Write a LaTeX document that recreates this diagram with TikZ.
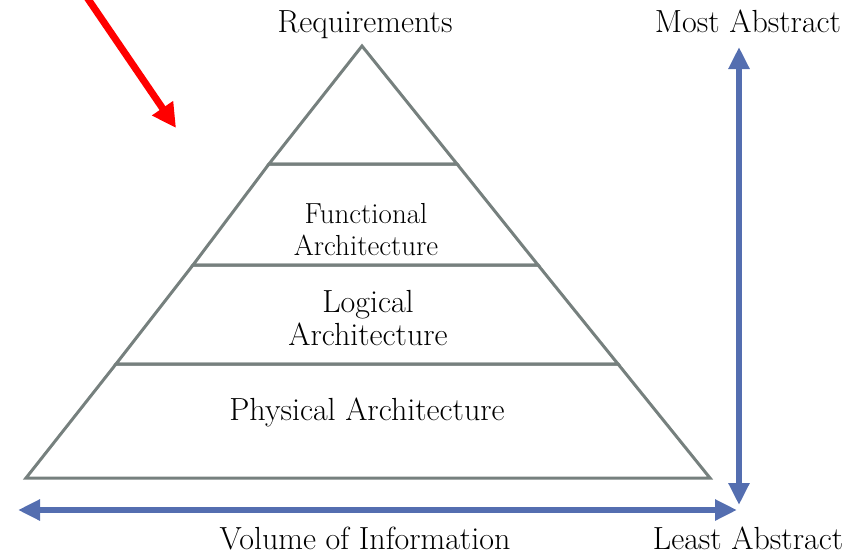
\documentclass[tikz,border=0pt]{standalone}
\usetikzlibrary{arrows.meta}
\definecolor{pyrgray}{RGB}{118,128,126}
\definecolor{axisblue}{RGB}{84,110,176}
\definecolor{callred}{RGB}{255,0,0}
\tikzset{
  layer/.style={draw=pyrgray, line width=3pt, line join=miter},
  axis/.style={draw=axisblue, line width=6pt, {Triangle[length=22pt,width=20pt]}-{Triangle[length=22pt,width=20pt]}},
  pointer/.style={draw=callred, line width=7pt, -{Triangle[length=24pt,width=24pt]}},
  lbl/.style={inner sep=0pt, anchor=base, font=\fontsize{32}{34}\selectfont},
  smalllbl/.style={lbl, font=\fontsize{29}{31}\selectfont},
}
\begin{document}
\begin{tikzpicture}[x=1pt,y=-1pt]
\useasboundingbox (0,0) rectangle (863,555);
% pyramid corners
\coordinate (apex) at (362,46);
\coordinate (l1) at (269,164); \coordinate (r1) at (457,164);
\coordinate (l2) at (193,265); \coordinate (r2) at (538,265);
\coordinate (l3) at (116,364); \coordinate (r3) at (618,364);
\coordinate (l4) at (26,478);  \coordinate (r4) at (710,478);
\draw[layer] (apex) -- (r1) -- (l1) -- cycle;
\draw[layer] (l1) -- (r1) -- (r2) -- (l2) -- cycle;
\draw[layer] (l2) -- (r2) -- (r3) -- (l3) -- cycle;
\draw[layer] (l3) -- (r3) -- (r4) -- (l4) -- cycle;
% labels
\node[lbl] (req) at (365,32) {Requirements};
\node[smalllbl] (func1) at (366,223) {Functional};
\node[smalllbl] (func2) at (366,255) {Architecture};
\node[lbl] (log1) at (368,312) {Logical};
\node[lbl] (log2) at (368,345) {Architecture};
\node[lbl] (phys) at (367,420) {Physical Architecture};
\node[lbl] (vol) at (365,549) {Volume of Information};
\node[lbl] (most) at (748,32) {Most Abstract};
\node[lbl] (least) at (748,549) {Least Abstract};
% axes
\coordinate (hl) at (18,510); \coordinate (hr) at (737,510);
\coordinate (vt) at (739,47); \coordinate (vb) at (739,505);
\draw[axis] (hl) -- (hr);
\draw[axis] (vt) -- (vb);
% red pointer
\coordinate (ps) at (86,-4); \coordinate (pe) at (176,128);
\draw[pointer] (ps) -- (pe);
\end{tikzpicture}
\end{document}
